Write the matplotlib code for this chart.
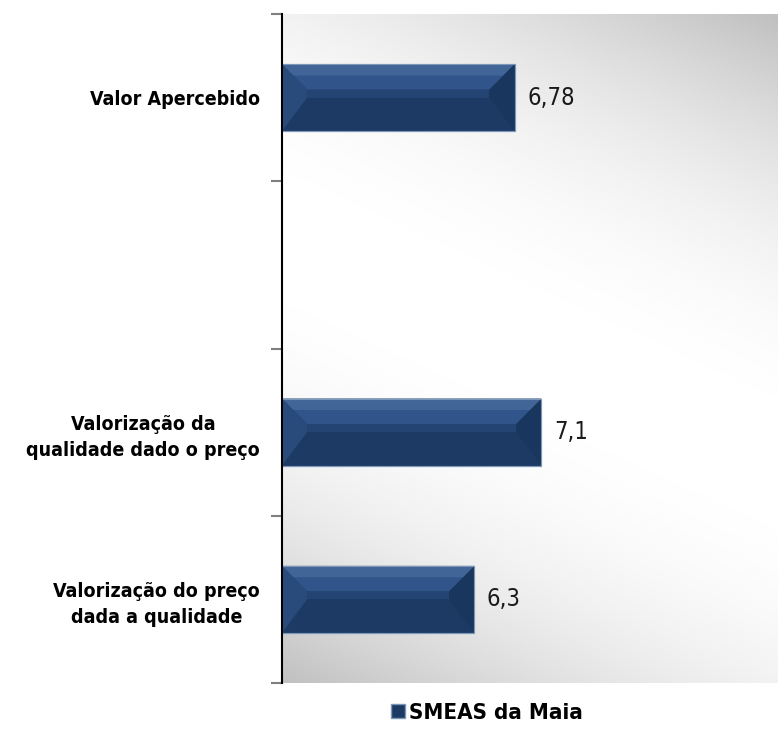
import numpy as np
import matplotlib
matplotlib.use("Agg")
import matplotlib.pyplot as plt
from matplotlib.patches import Polygon, Rectangle

plt.rcParams['font.family'] = ['DejaVu Sans']
plt.rcParams['font.stretch'] = 'condensed'

# data
categories = ['Valor Apercebido', '',
              'Valorização da\nqualidade dado o preço',
              'Valorização do preço\ndada a qualidade']
values = [6.78, np.nan, 7.1, 6.3]
value_labels = ['6,78', '', '7,1', '6,3']
series_name = 'SMEAS da Maia'

W, H = 778, 734
fig = plt.figure(figsize=(W / 100, H / 100), dpi=100)
# plot area runs a few pixels past the right edge of the image
ax = fig.add_axes([282 / W, 1 - 683 / H, 502 / W, (683 - 14) / H])

# diagonal grey-white-grey background
ny, nx = 200, 200
px = 282 + np.linspace(0, 502, nx)
py = 14 + np.linspace(0, 669, ny)
X, Y = np.meshgrid(px, py)
s = (X - 530) * 0.42 - (Y - 350) * 0.91
bg = 1 - 0.25 * np.clip(np.abs(s) / 410, 0, 1) ** 2.2
ax.imshow(bg, cmap='gray', vmin=0, vmax=1, extent=(0, 1, 0, 1),
          transform=ax.transAxes, aspect='auto', zorder=0,
          interpolation='bilinear')

pos = np.arange(len(categories))
bars = ax.barh(pos, values, height=0.4, left=0, color='#1c3a64',
               edgecolor='#6f8bb0', linewidth=0.8, zorder=2)

ax.set_xlim(4, 10)
ax.set_ylim(3.5, -0.5)

# bevel faces on each bar
bev = 0.3
for b in bars:
    x0 = 4
    x1 = b.get_x() + b.get_width()
    if np.isnan(x1):
        continue
    y0 = b.get_y()
    h = b.get_height()
    y1 = y0 + h
    ym = y0 + 0.38 * h
    ym2 = y0 + 0.5 * h
    ax.add_patch(Polygon([(x0, y0), (x1, y0), (x1 - bev, ym), (x0 + bev, ym)],
                         closed=True, facecolor='#31548a', edgecolor='none', zorder=3))
    ax.add_patch(Polygon([(x0, y0), (x1, y0), (x1 - bev * 0.45, y0 + 0.17 * h),
                          (x0 + bev * 0.45, y0 + 0.17 * h)],
                         closed=True, facecolor='#416596', edgecolor='none', zorder=3))
    ax.add_patch(Polygon([(x0 + bev, ym), (x1 - bev, ym), (x1 - bev, ym2), (x0 + bev, ym2)],
                         closed=True, facecolor='#244574', edgecolor='none', zorder=3))
    ax.add_patch(Polygon([(x0, y0), (x0 + bev, ym), (x0 + bev, ym2), (x0, y1)],
                         closed=True, facecolor='#284b7c', edgecolor='none', zorder=3))
    ax.add_patch(Polygon([(x1, y0), (x1 - bev, ym), (x1 - bev, ym2), (x1, y1)],
                         closed=True, facecolor='#19365e', edgecolor='none', zorder=3))
    ax.add_patch(Rectangle((x0, y0), x1 - x0, h, facecolor='none',
                           edgecolor='#7d97b9', linewidth=0.8, zorder=4))

for p, v, lab in zip(pos, values, value_labels):
    if np.isnan(v):
        continue
    ax.text(v + 0.15, p, lab, va='center', ha='left', fontsize=17, color='#1a1a1a')

# axes styling
for side in ['top', 'right', 'bottom']:
    ax.spines[side].set_visible(False)
ax.spines['left'].set_color('black')
ax.spines['left'].set_linewidth(1.5)
ax.spines['left'].set_zorder(5)
ax.set_xticks([])
ax.set_yticks(pos)
ax.set_yticklabels(categories, fontsize=14, fontweight='bold', multialignment='center',
                   linespacing=1.45)
ax.tick_params(axis='y', which='major', length=0, pad=16)
ax.set_yticks(np.arange(-0.5, len(categories), 1.0), minor=True)
ax.tick_params(axis='y', which='minor', length=8, width=1.5, color='#808080')

leg = fig.legend([Rectangle((0, 0), 1, 1, facecolor='#1c3a64', edgecolor='#7d97b9')],
                 [series_name], loc='center', bbox_to_anchor=(487 / W, 1 - 713 / H),
                 frameon=False, handlelength=0.6, handleheight=0.6, handletextpad=0.2,
                 prop={'size': 16, 'weight': 'bold', 'stretch': 'condensed'})

fig.savefig('out.png', dpi=100)
